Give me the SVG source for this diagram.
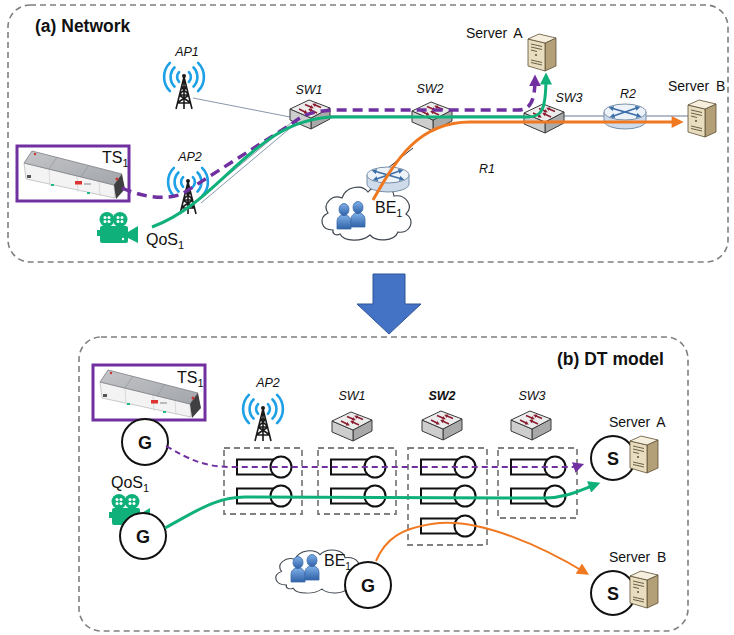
<svg xmlns="http://www.w3.org/2000/svg" xmlns:xlink="http://www.w3.org/1999/xlink" width="734" height="635" viewBox="0 0 734 635">
<style>
  .panel{fill:#fff;stroke:#7f7f7f;stroke-width:1.6;stroke-dasharray:6 4}
  .title{font-family:"Liberation Sans",Arial,sans-serif;font-weight:bold;font-size:17.5px;fill:#111}
  .lbl{font-family:"Liberation Sans",Arial,sans-serif;font-size:16px;fill:#111}
  .srv{font-family:"Liberation Sans",Arial,sans-serif;font-size:14px;fill:#111;word-spacing:3px}
  .dev{font-family:"Liberation Sans",Arial,sans-serif;font-style:italic;font-size:12.5px;fill:#111;text-anchor:middle}
  .node{fill:#fff;stroke:#111;stroke-width:2}
  .nl{font-family:"Liberation Sans",Arial,sans-serif;font-weight:bold;font-size:18px;fill:#111;text-anchor:middle}
  .box{fill:none;stroke:#808080;stroke-width:1.8;stroke-dasharray:6 4}
  .ts{fill:#fff;stroke:#7030a0;stroke-width:3}
  .wave{fill:none;stroke:#1ea0e6;stroke-width:2.6;stroke-linecap:round}
  .tw{fill:none;stroke:#1a1a1a;stroke-width:1.6}
  .thin{fill:none;stroke:#6a7c94;stroke-width:0.8}
  .purple{fill:none;stroke:#7030a0}
  .green{fill:none;stroke:#10b07a}
  .orange{fill:none;stroke:#f07820}
</style>
<defs>
  <linearGradient id="userG" x1="0" y1="0" x2="0" y2="1">
    <stop offset="0" stop-color="#7fb0e8"/><stop offset="1" stop-color="#2f62a8"/>
  </linearGradient>
  <linearGradient id="robTop" x1="0" y1="0" x2="1" y2="1">
    <stop offset="0" stop-color="#c4c6c9"/><stop offset="1" stop-color="#a2a5aa"/>
  </linearGradient>
  <marker id="mP" viewBox="0 0 10 10" refX="7" refY="5" markerWidth="12" markerHeight="12" markerUnits="userSpaceOnUse" orient="auto">
    <path d="M0,0 L10,5 L0,10 z" fill="#7030a0"/>
  </marker>
  <marker id="mG" viewBox="0 0 10 10" refX="7" refY="5" markerWidth="13" markerHeight="12" markerUnits="userSpaceOnUse" orient="auto">
    <path d="M0,0 L10,5 L0,10 z" fill="#10b07a"/>
  </marker>
  <marker id="mO" viewBox="0 0 10 10" refX="7" refY="5" markerWidth="13" markerHeight="12" markerUnits="userSpaceOnUse" orient="auto">
    <path d="M0,0 L10,5 L0,10 z" fill="#f07820"/>
  </marker>
  <marker id="mPs" viewBox="0 0 10 10" refX="7" refY="5" markerWidth="11" markerHeight="11" markerUnits="userSpaceOnUse" orient="auto">
    <path d="M0,0 L10,5 L0,10 z" fill="#7030a0"/>
  </marker>
  <marker id="mRed" viewBox="0 0 10 10" refX="5" refY="5" markerWidth="4" markerHeight="4" markerUnits="userSpaceOnUse" orient="auto">
    <path d="M0,0 L10,5 L0,10 z" fill="#8b1e30"/>
  </marker>
  <marker id="mBlue" viewBox="0 0 10 10" refX="5" refY="5" markerWidth="5" markerHeight="5" markerUnits="userSpaceOnUse" orient="auto">
    <path d="M0,0 L10,5 L0,10 z" fill="#3d6fa8"/>
  </marker>

  <!-- wireless access point: waves centred on the origin, tower below -->
  <g id="ap">
    <path class="wave" d="M-4.9,-4.9 A7,7 0 0 0 -4.9,4.9 M4.9,-4.9 A7,7 0 0 1 4.9,4.9"/>
    <path class="wave" d="M-9.5,-9.5 A13.5,13.5 0 0 0 -9.5,9.5 M9.5,-9.5 A13.5,13.5 0 0 1 9.5,9.5"/>
    <path class="wave" d="M-14.1,-14.1 A20,20 0 0 0 -14.1,14.1 M14.1,-14.1 A20,20 0 0 1 14.1,14.1"/>
    <circle cx="0" cy="-1" r="2" fill="#1a1a1a"/>
    <path class="tw" d="M0,0 L-8,32 M0,0 L8,32 M0,0 L0,32 M-3,10 L3,10 M-5,18 L5,18 M-7,26 L7,26 M-3,10 L5,18 M3,10 L-5,18 M-5,18 L7,26 M5,18 L-7,26"/>
  </g>

  <!-- ethernet switch, 42 x 32 -->
  <g id="switch">
    <polygon points="22,20 41,10 41,21 22,31" fill="#a9a9a9" stroke="#3a3a3a" stroke-width="1" stroke-linejoin="round"/>
    <polygon points="1,11 22,20 22,31 1,22" fill="#cdcdcd" stroke="#3a3a3a" stroke-width="1" stroke-linejoin="round"/>
    <polygon points="1,11 20,2 41,10 22,20" fill="#ececec" stroke="#3a3a3a" stroke-width="1" stroke-linejoin="round"/>
    <g stroke="#8b1e30" stroke-width="1.6" fill="none">
      <path d="M10,11 L17,14.5" marker-end="url(#mRed)"/>
      <path d="M32,9.5 L25,6.5" marker-end="url(#mRed)"/>
      <path d="M16,6.5 L23,9.5" marker-end="url(#mRed)"/>
      <path d="M28,15 L21,11.8" marker-end="url(#mRed)"/>
    </g>
  </g>

  <!-- router, 44 x 28 -->
  <g id="router">
    <path d="M1,9 L1,18 A21,8 0 0 0 43,18 L43,9" fill="#cddbea" stroke="#7890a8" stroke-width="1"/>
    <ellipse cx="22" cy="9" rx="21" ry="8" fill="#eef3f9" stroke="#7890a8" stroke-width="1"/>
    <g stroke="#3d6fa8" stroke-width="1.6" fill="none">
      <path d="M22,9 L8,5" marker-end="url(#mBlue)"/>
      <path d="M22,9 L36,13" marker-end="url(#mBlue)"/>
      <path d="M22,9 L35,4.5" marker-end="url(#mBlue)"/>
      <path d="M22,9 L9,13.5" marker-end="url(#mBlue)"/>
    </g>
  </g>

  <!-- tower server, 28 x 38 -->
  <g id="server">
    <polygon points="17,10 28,5 28,33 17,38" fill="#b3a079" stroke="#5e4f33" stroke-width="0.8"/>
    <polygon points="0,6 17,10 17,38 0,33" fill="#e9ddbf" stroke="#5e4f33" stroke-width="0.8"/>
    <polygon points="0,6 11,1 28,5 17,10" fill="#f6efdd" stroke="#5e4f33" stroke-width="0.8"/>
    <g stroke="#4a3f2a" stroke-width="0.8">
      <path d="M3,11 L14,13.5 M3,14 L14,16.5 M3,17 L9,18.5"/>
      <path d="M3,27 L14,29.5 M3,29.5 L14,32"/>
    </g>
    <circle cx="8" cy="22" r="0.9" fill="#4a3f2a"/>
  </g>

  <!-- video camera, 41 x 31 -->
  <g id="camera" fill="#10b07a">
    <circle cx="10" cy="7.5" r="7.5"/>
    <circle cx="23" cy="7.5" r="7.5"/>
    <g fill="#fff">
      <circle cx="8" cy="5.5" r="1.5"/><circle cx="12" cy="5.5" r="1.5"/><circle cx="8" cy="9.5" r="1.5"/><circle cx="12" cy="9.5" r="1.5"/>
      <circle cx="21" cy="5.5" r="1.5"/><circle cx="25" cy="5.5" r="1.5"/><circle cx="21" cy="9.5" r="1.5"/><circle cx="25" cy="9.5" r="1.5"/>
    </g>
    <rect x="3" y="14" width="28" height="17" rx="2"/>
    <rect x="0" y="18" width="4" height="6"/>
    <polygon points="31,20 41,14 41,31 31,26"/>
    <circle cx="26" cy="27" r="1.2" fill="#fff"/>
  </g>

  <!-- user figure, 14 x 26 -->
  <g id="user">
    <path d="M0,26 L0,19 C0,14 3,12 7,12 C11,12 14,14 14,19 L14,26 Z" fill="url(#userG)" stroke="#3a6aa8" stroke-width="0.8"/>
    <ellipse cx="7" cy="6.5" rx="5" ry="6" fill="url(#userG)" stroke="#3a6aa8" stroke-width="0.8"/>
  </g>

  <!-- cloud outline, ~95 x 60 -->
  <path id="cloud" d="M15,50 C3,50 0,38 10,33 C4,24 14,14 24,18 C28,6 44,4 50,12 C58,2 76,6 76,16 C88,14 96,26 88,34 C98,40 92,54 80,52 C76,62 58,62 52,55 C44,62 26,62 22,54 C18,56 14,54 15,50 Z" fill="#fff" stroke="#3f4650" stroke-width="1.2"/>

  <!-- mobile robot, drawn in a 112 x 55 frame -->
  <g id="robot">
    <polygon points="7,17 97,39 98,52 9,33" fill="#f3f3f3" stroke="#bdbdbd" stroke-width="0.8"/>
    <path d="M32,23 L33,40 M60,30 L61,46 M82,35 L83,50" stroke="#d2d2d2" stroke-width="0.8"/>
    <polygon points="7,17 15,5 105,28 97,39" fill="url(#robTop)" stroke="#7d8086" stroke-width="0.8"/>
    <path d="M40,11 L32,23 M72,19 L64,31" stroke="#8a8d92" stroke-width="0.6"/>
    <polygon points="97,39 105,28 108,43 99,53" fill="#3f3f42"/>
    <rect x="58" y="35" width="7" height="3.5" fill="#d33"/>
    <rect x="67" y="37" width="7" height="2" fill="#bbb"/>
    <rect x="10" y="29" width="4" height="3" fill="#555"/>
    <rect x="34" y="38" width="3" height="2" fill="#1dbb88"/>
    <rect x="70" y="46" width="3" height="2" fill="#1dbb88"/>
    <circle cx="100" cy="33" r="1.5" fill="#c33"/>
    <circle cx="18" cy="8" r="1.2" fill="#c33"/>
  </g>

  <!-- queue element: buffer and server -->
  <g id="queue">
    <rect x="0" y="-7.5" width="44" height="15" fill="#fff" stroke="#111" stroke-width="2"/>
    <circle cx="44" cy="0" r="10.5" fill="#fff" stroke="#111" stroke-width="2"/>
  </g>
</defs>

<rect width="734" height="635" fill="#fff"/>

<!-- (a) physical network -->
<rect class="panel" x="8" y="5" width="720" height="257" rx="22"/>
<text class="title" x="35" y="32">(a) Network</text>

<g id="links-a">
  <path class="thin" d="M193,98 L290,117"/>
  <path class="thin" d="M198,200 L292,122 M201,203 L295,124"/>
  <path d="M330,116 L690,116" fill="none" stroke="#b4bccb" stroke-width="2"/>
  <path d="M388,168 L413,148" fill="none" stroke="#1a1a1a" stroke-width="0.9"/>
</g>

<g id="ap1"><use href="#ap" x="184" y="77"/><text class="dev" x="187" y="56">AP1</text></g>
<g id="ap2-net"><use href="#ap" x="188" y="182"/><text class="dev" x="190" y="161">AP2</text></g>
<g id="sw1-net"><use href="#switch" x="289" y="98"/><text class="dev" x="309" y="94">SW1</text></g>
<g id="sw2-net"><use href="#switch" x="411" y="100"/><text class="dev" x="430" y="93">SW2</text></g>
<g id="sw3-net"><use href="#switch" x="523" y="102"/><text class="dev" x="569" y="102">SW3</text></g>
<g id="r2"><use href="#router" x="603" y="103"/><text class="dev" x="628" y="98">R2</text></g>
<g id="server-a-net"><use href="#server" x="528" y="33"/><text class="srv" x="466" y="38">Server A</text></g>
<g id="server-b-net"><use href="#server" x="688" y="99"/><text class="srv" x="668" y="91">Server B</text></g>
<g id="be1-net">
  <use href="#cloud" transform="translate(318,180)"/>
  <use href="#user" x="337" y="203"/>
  <use href="#user" x="351" y="201"/>
  <text class="lbl" x="375" y="213">BE<tspan font-size="11" dy="4">1</tspan></text>
</g>
<g id="r1"><use href="#router" x="366" y="166"/><text class="dev" x="487" y="173" font-size="9">R1</text></g>
<g id="ts1-net">
  <rect class="ts" x="17" y="146" width="112" height="55"/>
  <use href="#robot" x="17" y="146"/>
  <text class="lbl" x="102" y="163" font-size="17">TS<tspan font-size="11" dy="4">1</tspan></text>
</g>
<g id="qos1-net">
  <use href="#camera" x="97" y="212"/>
  <text class="lbl" x="146" y="245" font-size="17">QoS<tspan font-size="11" dy="4">1</tspan></text>
</g>

<g id="flows-a">
  <path class="purple" stroke-width="3.5" stroke-dasharray="10 6" d="M122,188 C140,196 162,201 182,194 L293,123 C300,117 310,111 333,110 L518,110 C530,110 535,102 535,78" marker-end="url(#mP)"/>
  <path class="green" stroke-width="3" d="M152,227 C222,202 254,118 335,117 L528,117 C542,117 546,110 546,76" marker-end="url(#mG)"/>
  <path class="orange" stroke-width="3" d="M373,200 C396,160 418,122 470,122 L680,122" marker-end="url(#mO)"/>
</g>

<!-- transition arrow -->
<polygon points="373,274 405,274 405,304 421,304 389,334 357,304 373,304" fill="#4472c4" stroke="#2f5597" stroke-width="1"/>

<!-- (b) digital twin model -->
<rect class="panel" x="79" y="337" width="609" height="294" rx="22"/>
<text class="title" x="557" y="365">(b) DT model</text>

<g id="ts1-src">
  <rect class="ts" x="93" y="365" width="112" height="55"/>
  <use href="#robot" x="93" y="365"/>
  <text class="lbl" x="177" y="383" font-size="17">TS<tspan font-size="11" dy="4">1</tspan></text>
  <circle class="node" cx="145" cy="442" r="23"/>
  <text class="nl" x="145" y="449">G</text>
</g>
<g id="qos1-src">
  <text class="lbl" x="111" y="488" font-size="17">QoS<tspan font-size="11" dy="4">1</tspan></text>
  <use href="#camera" x="109" y="494"/>
  <circle class="node" cx="143" cy="536" r="23"/>
  <text class="nl" x="143" y="543">G</text>
</g>
<g id="be1-src">
  <use href="#cloud" transform="translate(272,545) scale(0.96,0.8)"/>
  <use href="#user" x="291" y="556"/>
  <use href="#user" x="305" y="554"/>
  <circle class="node" cx="368" cy="585" r="23"/>
  <text class="nl" x="368" y="592">G</text>
  <text class="lbl" x="324" y="566" font-size="15">BE<tspan font-size="10" dy="4">1</tspan></text>
</g>
<g id="ap2-dt">
  <use href="#ap" x="263" y="409"/>
  <text class="dev" x="268" y="387">AP2</text>
  <rect class="box" x="224" y="448" width="78" height="66"/>
  <use href="#queue" x="237" y="467"/>
  <use href="#queue" x="237" y="496"/>
</g>
<g id="sw1-dt">
  <use href="#switch" x="331" y="410"/>
  <text class="dev" x="352" y="400">SW1</text>
  <rect class="box" x="318" y="448" width="78" height="66"/>
  <use href="#queue" x="331" y="467"/>
  <use href="#queue" x="331" y="496"/>
</g>
<g id="sw2-dt">
  <use href="#switch" x="421" y="409"/>
  <text class="dev" x="442" y="400" font-weight="bold">SW2</text>
  <rect class="box" x="408" y="448" width="79" height="97"/>
  <use href="#queue" x="421" y="467"/>
  <use href="#queue" x="421" y="496"/>
  <use href="#queue" x="421" y="526"/>
</g>
<g id="sw3-dt">
  <use href="#switch" x="510" y="409"/>
  <text class="dev" x="532" y="400">SW3</text>
  <rect class="box" x="498" y="448" width="79" height="70"/>
  <use href="#queue" x="511" y="467"/>
  <use href="#queue" x="511" y="496"/>
</g>
<g id="server-a-sink">
  <text class="srv" x="609" y="427">Server A</text>
  <circle class="node" cx="613" cy="458" r="22"/>
  <text class="nl" x="613" y="465">S</text>
  <use href="#server" x="630" y="435"/>
</g>
<g id="server-b-sink">
  <text class="srv" x="609" y="562">Server B</text>
  <circle class="node" cx="613" cy="593" r="22"/>
  <text class="nl" x="613" y="600">S</text>
  <use href="#server" x="630" y="570"/>
</g>

<g id="flows-b">
  <path class="purple" stroke-width="2" stroke-dasharray="6 4" d="M166,446 C190,460 205,467 232,467 L572,467 C576,467 578,466 581,465" marker-end="url(#mPs)"/>
  <path class="green" stroke-width="3" d="M165,528 C195,512 215,497 245,497 L545,498 C565,498 578,491 597,484" marker-end="url(#mG)"/>
  <path class="orange" stroke-width="2" d="M376,561 C385,540 400,527 440,523 C482,520 540,545 586,573" marker-end="url(#mO)"/>
</g>
</svg>
